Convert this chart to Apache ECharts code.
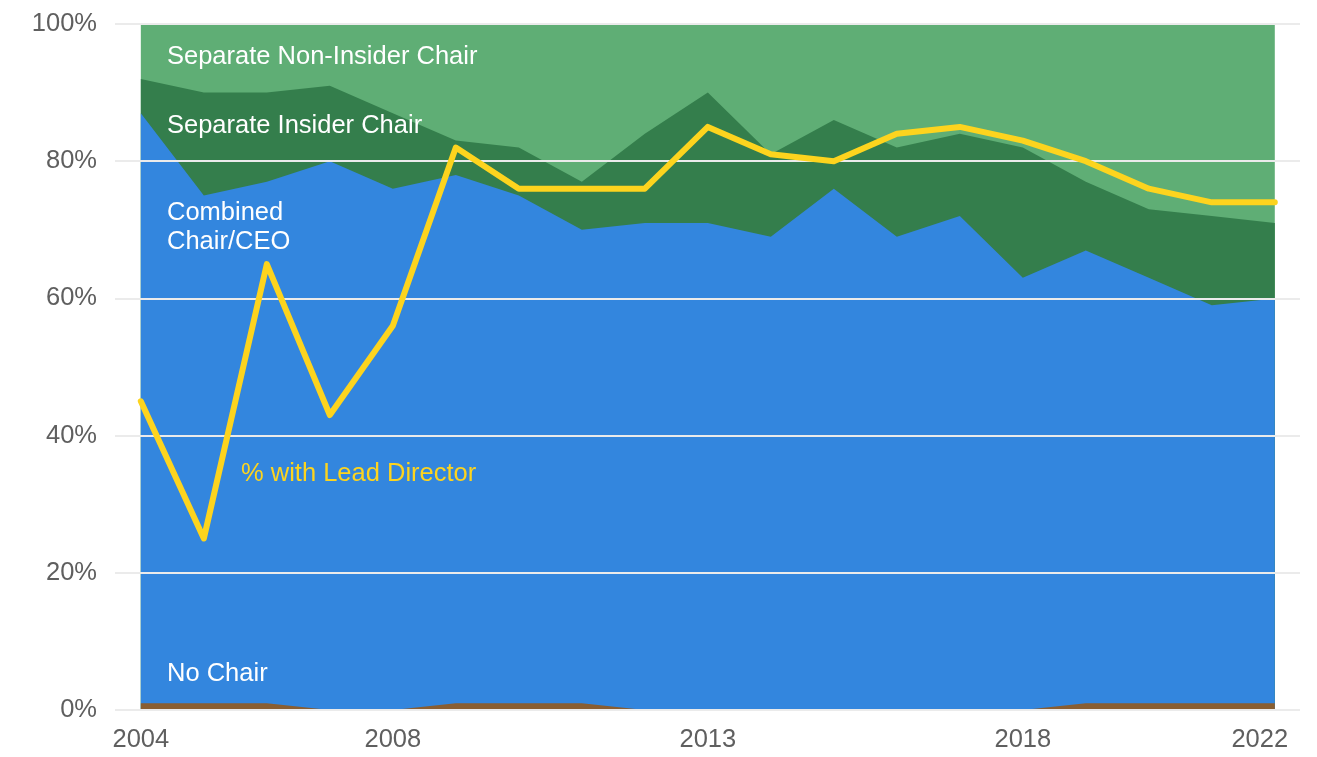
<!DOCTYPE html>
<html>
<head>
<meta charset="utf-8">
<script src="https://cdn.jsdelivr.net/npm/echarts@6/dist/echarts.min.js"></script>
<style>
  html, body { margin: 0; padding: 0; background: #fff; }
  #chart { width: 1317px; height: 757px; }
</style>
</head>
<body>
<div id="chart"></div>
<script>
// board leadership structure, share of companies per year
const years = [2004, 2005, 2006, 2007, 2008, 2009, 2010, 2011, 2012, 2013,
  2014, 2015, 2016, 2017, 2018, 2019, 2020, 2021, 2022];
const noChair = [1, 1, 1, 0, 0, 1, 1, 1, 0, 0, 0, 0, 0, 0, 0, 1, 1, 1, 1];
const combined = [86, 74, 76, 80, 76, 77, 74, 69, 71, 71, 69, 76, 69, 72, 63, 66, 62, 58, 59];
const insiderChair = [5, 15, 13, 11, 11, 5, 7, 7, 13, 19, 12, 10, 13, 12, 19, 10, 10, 13, 11];
const nonInsiderChair = [8, 10, 10, 9, 13, 17, 18, 23, 16, 10, 19, 14, 18, 16, 18, 23, 27, 28, 29];
const leadDirector = [45, 25, 65, 43, 56, 82, 76, 76, 76, 85, 81, 80, 84, 85, 83, 80, 76, 74, 74];
const xTicks = [2004, 2008, 2013, 2018, 2022];

const FONT = "Arial, 'Liberation Sans', sans-serif";
const labelColor = "#5f5f5f";

const chart = echarts.init(document.getElementById("chart"));

// running totals, bottom layer first; drawn top layer first so lower ones paint over
const layers = [noChair, combined, insiderChair, nonInsiderChair];
const tops = [];
let run = years.map(() => 0);
layers.forEach((vals) => {
  run = run.map((s, i) => s + vals[i]);
  tops.push(run);
});

const pairs = (vals) => years.map((y, i) => [y, vals[i]]);

const areaSeries = (name, vals, color) => ({
  name: name,
  type: "line",
  data: pairs(vals),
  showSymbol: false,
  z: 2,
  lineStyle: { width: 0 },
  itemStyle: { color: color },
  areaStyle: { color: color, opacity: 1 }
});

const textBox = (text, x, y, color) => ({
  type: "text",
  x: x,
  y: y,
  z: 20,
  style: {
    text: text,
    fill: color,
    font: "25.5px " + FONT,
    verticalAlign: "middle"
  }
});

const option = {
  animation: false,
  grid: { left: 115, right: 17, top: 24, bottom: 47 },
  xAxis: {
    type: "value",
    min: 2003.59,
    max: 2022.4,
    axisLine: { show: false },
    axisTick: { show: false },
    splitLine: { show: false },
    axisLabel: {
      customValues: xTicks,
      margin: 17,
      color: labelColor,
      fontSize: 25.5,
      fontFamily: FONT,
      formatter: (v) => (v === 2022 ? "{last|" + v + "}" : String(v)),
      rich: {
        last: { padding: [0, 30, 0, 0], color: labelColor, fontSize: 25.5, fontFamily: FONT }
      }
    }
  },
  yAxis: {
    type: "value",
    min: 0,
    max: 100,
    interval: 20,
    z: 3,
    axisLine: { show: false },
    axisTick: { show: false },
    axisLabel: {
      margin: 18,
      color: labelColor,
      fontSize: 25.5,
      fontFamily: FONT,
      formatter: "{value}%"
    },
    splitLine: { lineStyle: { color: "#ebebeb", width: 2 } }
  },
  series: [
    areaSeries("Separate Non-Insider Chair", tops[3], "#5fae75"),
    areaSeries("Separate Insider Chair", tops[2], "#347e4c"),
    areaSeries("Combined Chair/CEO", tops[1], "#3386de"),
    areaSeries("No Chair", tops[0], "#895e32"),
    {
      name: "% with Lead Director",
      type: "line",
      data: pairs(leadDirector),
      showSymbol: false,
      z: 5,
      lineStyle: { color: "#fdd41e", width: 6, cap: "round", join: "round" },
      itemStyle: { color: "#fdd41e" }
    }
  ],
  graphic: [
    textBox("Separate Non-Insider Chair", 167, 57, "#ffffff"),
    textBox("Separate Insider Chair", 167, 126, "#ffffff"),
    textBox("Combined", 167, 213, "#ffffff"),
    textBox("Chair/CEO", 167, 242, "#ffffff"),
    textBox("% with Lead Director", 241, 474, "#fdd41e"),
    textBox("No Chair", 167, 674, "#ffffff")
  ]
};

chart.setOption(option);
</script>
</body>
</html>
